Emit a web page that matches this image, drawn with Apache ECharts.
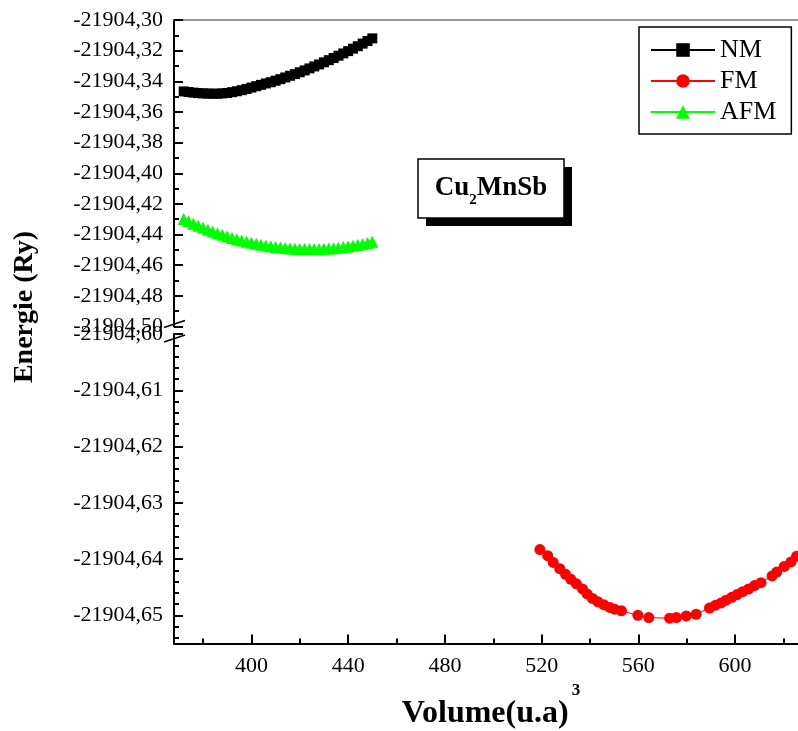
<!DOCTYPE html>
<html>
<head>
<meta charset="utf-8">
<title>Cu2MnSb</title>
<script src="https://cdn.jsdelivr.net/npm/echarts@6.0.0/dist/echarts.min.js"></script>
<style>
  html, body { margin: 0; padding: 0; background: #fff; }
  #main { width: 798px; height: 731px; }
</style>
</head>
<body>
<div id="main"></div>
<script>
// volumes for NM / AFM (upper part)
const volUpper = [372, 374, 376, 378, 380, 382, 384, 386, 388, 390, 392, 394, 396, 398, 400, 402, 404, 406, 408, 410,
  412, 414, 416, 418, 420, 422, 424, 426, 428, 430, 432, 434, 436, 438, 440, 442, 444, 446, 448, 450];
const nmE = [-21904.3466, -21904.3470, -21904.3474, -21904.3477, -21904.3479, -21904.3480, -21904.3481, -21904.3481,
  -21904.3479, -21904.3476, -21904.3471, -21904.3465, -21904.3458, -21904.3450, -21904.3441, -21904.3432, -21904.3423,
  -21904.3414, -21904.3406, -21904.3396, -21904.3386, -21904.3375, -21904.3364, -21904.3353, -21904.3341, -21904.3329,
  -21904.3316, -21904.3303, -21904.3290, -21904.3276, -21904.3262, -21904.3248, -21904.3233, -21904.3218, -21904.3203,
  -21904.3187, -21904.3171, -21904.3154, -21904.3137, -21904.3120];
const afmE = [-21904.4298, -21904.4314, -21904.4329, -21904.4343, -21904.4356, -21904.4368, -21904.4380, -21904.4391,
  -21904.4402, -21904.4412, -21904.4422, -21904.4431, -21904.4439, -21904.4447, -21904.4454, -21904.4460, -21904.4466,
  -21904.4472, -21904.4477, -21904.4481, -21904.4485, -21904.4488, -21904.4491, -21904.4493, -21904.4494, -21904.4495,
  -21904.4495, -21904.4495, -21904.4494, -21904.4493, -21904.4491, -21904.4489, -21904.4486, -21904.4482, -21904.4478,
  -21904.4473, -21904.4468, -21904.4462, -21904.4455, -21904.4447];

// FM (lower part)
const fmVol = [519.3, 522.5, 524.8, 527.5, 529.9, 532.1, 534.4, 536.9, 538.8, 541.0, 543.3, 545.7, 548.2, 550.2, 553.0,
  559.8, 564.3, 572.9, 575.7, 579.8, 583.9, 589.4, 591.9, 594.2, 596.3, 598.6, 600.8, 603.1, 605.6, 608.0, 610.7,
  615.3, 617.2, 620.3, 623.1, 625.4];
const fmE = [-21904.6383, -21904.6394, -21904.6406, -21904.6417, -21904.6427, -21904.6436, -21904.6444, -21904.6453,
  -21904.6462, -21904.6470, -21904.6476, -21904.6481, -21904.6486, -21904.6489, -21904.6492, -21904.6500, -21904.6504,
  -21904.6505, -21904.6504, -21904.6501, -21904.6498, -21904.6487, -21904.6482, -21904.6478, -21904.6473, -21904.6468,
  -21904.6463, -21904.6458, -21904.6453, -21904.6447, -21904.6442, -21904.6430, -21904.6423, -21904.6413, -21904.6405,
  -21904.6395];

// tick labels
const xTicks = [400, 440, 480, 520, 560, 600];
const xMinor = [380, 420, 460, 500, 540, 580, 620];
const yUpTicks = [-21904.30, -21904.32, -21904.34, -21904.36, -21904.38, -21904.40, -21904.42, -21904.44, -21904.46, -21904.48, -21904.50];
const yLowTicks = [-21904.60, -21904.61, -21904.62, -21904.63, -21904.64, -21904.65];

// minor ticks
const yUpMinor = [];
for (let i = 0; i < yUpTicks.length - 1; i++) yUpMinor.push(+((yUpTicks[i] + yUpTicks[i + 1]) / 2).toFixed(3));
const yLowMinor = [];
for (let i = 0; i < 27; i++) {
  if (i % 5 !== 2) yLowMinor.push(+(-21904.654 + i * 0.002).toFixed(3));
}

// layout
const LEFT = 174, WIDTH = 625;
const UP_TOP = 20, UP_H = 306.5;
const LOW_TOP = 334, LOW_H = 309.5;
const X_MIN = 368, X_MAX = 626;

const FONT = "'Liberation Serif', 'Times New Roman', serif";
const fmt = v => v.toFixed(2).replace('.', ',');
const zip = (xs, ys) => xs.map((x, i) => [x, ys[i]]);

const tickStyle = { color: '#000', width: 2 };
const labelStyle = { fontFamily: FONT, fontSize: 22, color: '#000' };

const chart = echarts.init(document.getElementById('main'));

const option = {
  animation: false,
  backgroundColor: '#fff',
  grid: [
    { left: LEFT, top: UP_TOP, width: WIDTH, height: UP_H },
    { left: LEFT, top: LOW_TOP, width: WIDTH, height: LOW_H }
  ],
  legend: {
    orient: 'vertical',
    left: 639,
    top: 27,
    padding: [10, 15, 9, 11],
    itemGap: 5,
    itemWidth: 64,
    itemHeight: 17,
    borderColor: '#000',
    borderWidth: 1.5,
    textStyle: { fontFamily: FONT, fontSize: 26, color: '#000' },
    data: ['NM', 'FM', 'AFM']
  },
  xAxis: [
    {
      // top frame line
      type: 'value', gridIndex: 0, position: 'top', min: X_MIN, max: X_MAX,
      axisLine: { show: true, lineStyle: { color: '#777', width: 1.5 } },
      axisTick: { show: false }, axisLabel: { show: false }, splitLine: { show: false }
    },
    {
      type: 'value', gridIndex: 1, position: 'bottom', min: X_MIN, max: X_MAX,
      axisLine: { show: true, onZero: false, lineStyle: { color: '#000', width: 2 } },
      axisTick: { show: true, inside: true, length: 9, lineStyle: tickStyle, customValues: xTicks },
      axisLabel: { show: true, margin: 12, customValues: xTicks, ...labelStyle },
      splitLine: { show: false }
    },
    {
      // minor ticks
      type: 'value', gridIndex: 1, position: 'bottom', min: X_MIN, max: X_MAX,
      axisLine: { show: false, onZero: false },
      axisTick: { show: true, inside: true, length: 5, lineStyle: tickStyle, customValues: xMinor },
      axisLabel: { show: false }, splitLine: { show: false }
    }
  ],
  yAxis: [
    {
      type: 'value', gridIndex: 0, position: 'left', min: -21904.50, max: -21904.30,
      axisLine: { show: true, onZero: false, lineStyle: { color: '#000', width: 2 } },
      axisTick: { show: true, inside: true, length: 9, lineStyle: tickStyle, customValues: yUpTicks },
      axisLabel: { show: true, margin: 11, customValues: yUpTicks, formatter: fmt, ...labelStyle },
      splitLine: { show: false }
    },
    {
      type: 'value', gridIndex: 0, position: 'left', min: -21904.50, max: -21904.30,
      axisLine: { show: false, onZero: false },
      axisTick: { show: true, inside: true, length: 5, lineStyle: tickStyle, customValues: yUpMinor },
      axisLabel: { show: false }, splitLine: { show: false }
    },
    {
      type: 'value', gridIndex: 1, position: 'left', min: -21904.655, max: -21904.60,
      axisLine: { show: true, onZero: false, lineStyle: { color: '#000', width: 2 } },
      axisTick: { show: true, inside: true, length: 9, lineStyle: tickStyle, customValues: yLowTicks },
      axisLabel: { show: true, margin: 11, customValues: yLowTicks, formatter: fmt, ...labelStyle },
      splitLine: { show: false }
    },
    {
      type: 'value', gridIndex: 1, position: 'left', min: -21904.655, max: -21904.60,
      axisLine: { show: false, onZero: false },
      axisTick: { show: true, inside: true, length: 5, lineStyle: tickStyle, customValues: yLowMinor },
      axisLabel: { show: false }, splitLine: { show: false }
    }
  ],
  series: [
    {
      name: 'NM', type: 'line', xAxisIndex: 0, yAxisIndex: 0,
      data: zip(volUpper, nmE),
      symbol: 'rect', symbolSize: 10,
      itemStyle: { color: '#000' },
      lineStyle: { color: '#000', width: 1 }
    },
    {
      name: 'FM', type: 'line', xAxisIndex: 1, yAxisIndex: 2,
      data: zip(fmVol, fmE),
      symbol: 'circle', symbolSize: 11,
      itemStyle: { color: '#ff0000' },
      lineStyle: { color: '#ff0000', width: 1 }
    },
    {
      name: 'AFM', type: 'line', xAxisIndex: 0, yAxisIndex: 0,
      data: zip(volUpper, afmE),
      symbol: 'triangle', symbolSize: 12,
      itemStyle: { color: '#00ff00' },
      lineStyle: { color: '#00ff00', width: 1 }
    }
  ],
  graphic: [
    {
      // y title
      type: 'text', x: 25, y: 307, rotation: Math.PI / 2,
      style: {
        text: 'Energie (Ry)', fontFamily: FONT, fontSize: 28, fontWeight: 'bold', fill: '#000',
        align: 'center', verticalAlign: 'middle'
      }
    },
    {
      // x title
      type: 'text', x: 491, y: 714,
      style: {
        text: '{m|Volume(u.a)}{s|3}',
        align: 'center', verticalAlign: 'middle',
        rich: {
          m: { fontFamily: FONT, fontSize: 32, fontWeight: 'bold', fill: '#000', verticalAlign: 'middle' },
          s: { fontFamily: FONT, fontSize: 17, fontWeight: 'bold', fill: '#000', verticalAlign: 'middle', padding: [0, 0, 46, 3] }
        }
      }
    },
    {
      // compound label box
      type: 'group', x: 418, y: 159,
      children: [
        { type: 'rect', shape: { x: 8, y: 8, width: 146, height: 59 }, style: { fill: '#000' } },
        { type: 'rect', shape: { x: 0, y: 0, width: 146, height: 59 }, style: { fill: '#fff', stroke: '#000', lineWidth: 1.5 } },
        {
          type: 'text', x: 73, y: 29,
          style: {
            text: '{m|Cu}{s|2}{m|MnSb}',
            align: 'center', verticalAlign: 'middle',
            rich: {
              m: { fontFamily: FONT, fontSize: 27, fontWeight: 'bold', fill: '#000', verticalAlign: 'middle' },
              s: { fontFamily: FONT, fontSize: 15, fontWeight: 'bold', fill: '#000', verticalAlign: 'middle', padding: [24, 0, 0, 0] }
            }
          }
        }
      ]
    },
    // axis break marks
    { type: 'line', shape: { x1: LEFT - 10, y1: UP_TOP + UP_H + 1, x2: LEFT + 11, y2: UP_TOP + UP_H - 6 }, style: { stroke: '#000', lineWidth: 1.5 } },
    { type: 'line', shape: { x1: LEFT - 10, y1: LOW_TOP + 8, x2: LEFT + 11, y2: LOW_TOP + 1 }, style: { stroke: '#000', lineWidth: 1.5 } }
  ]
};

chart.setOption(option);
</script>
</body>
</html>
